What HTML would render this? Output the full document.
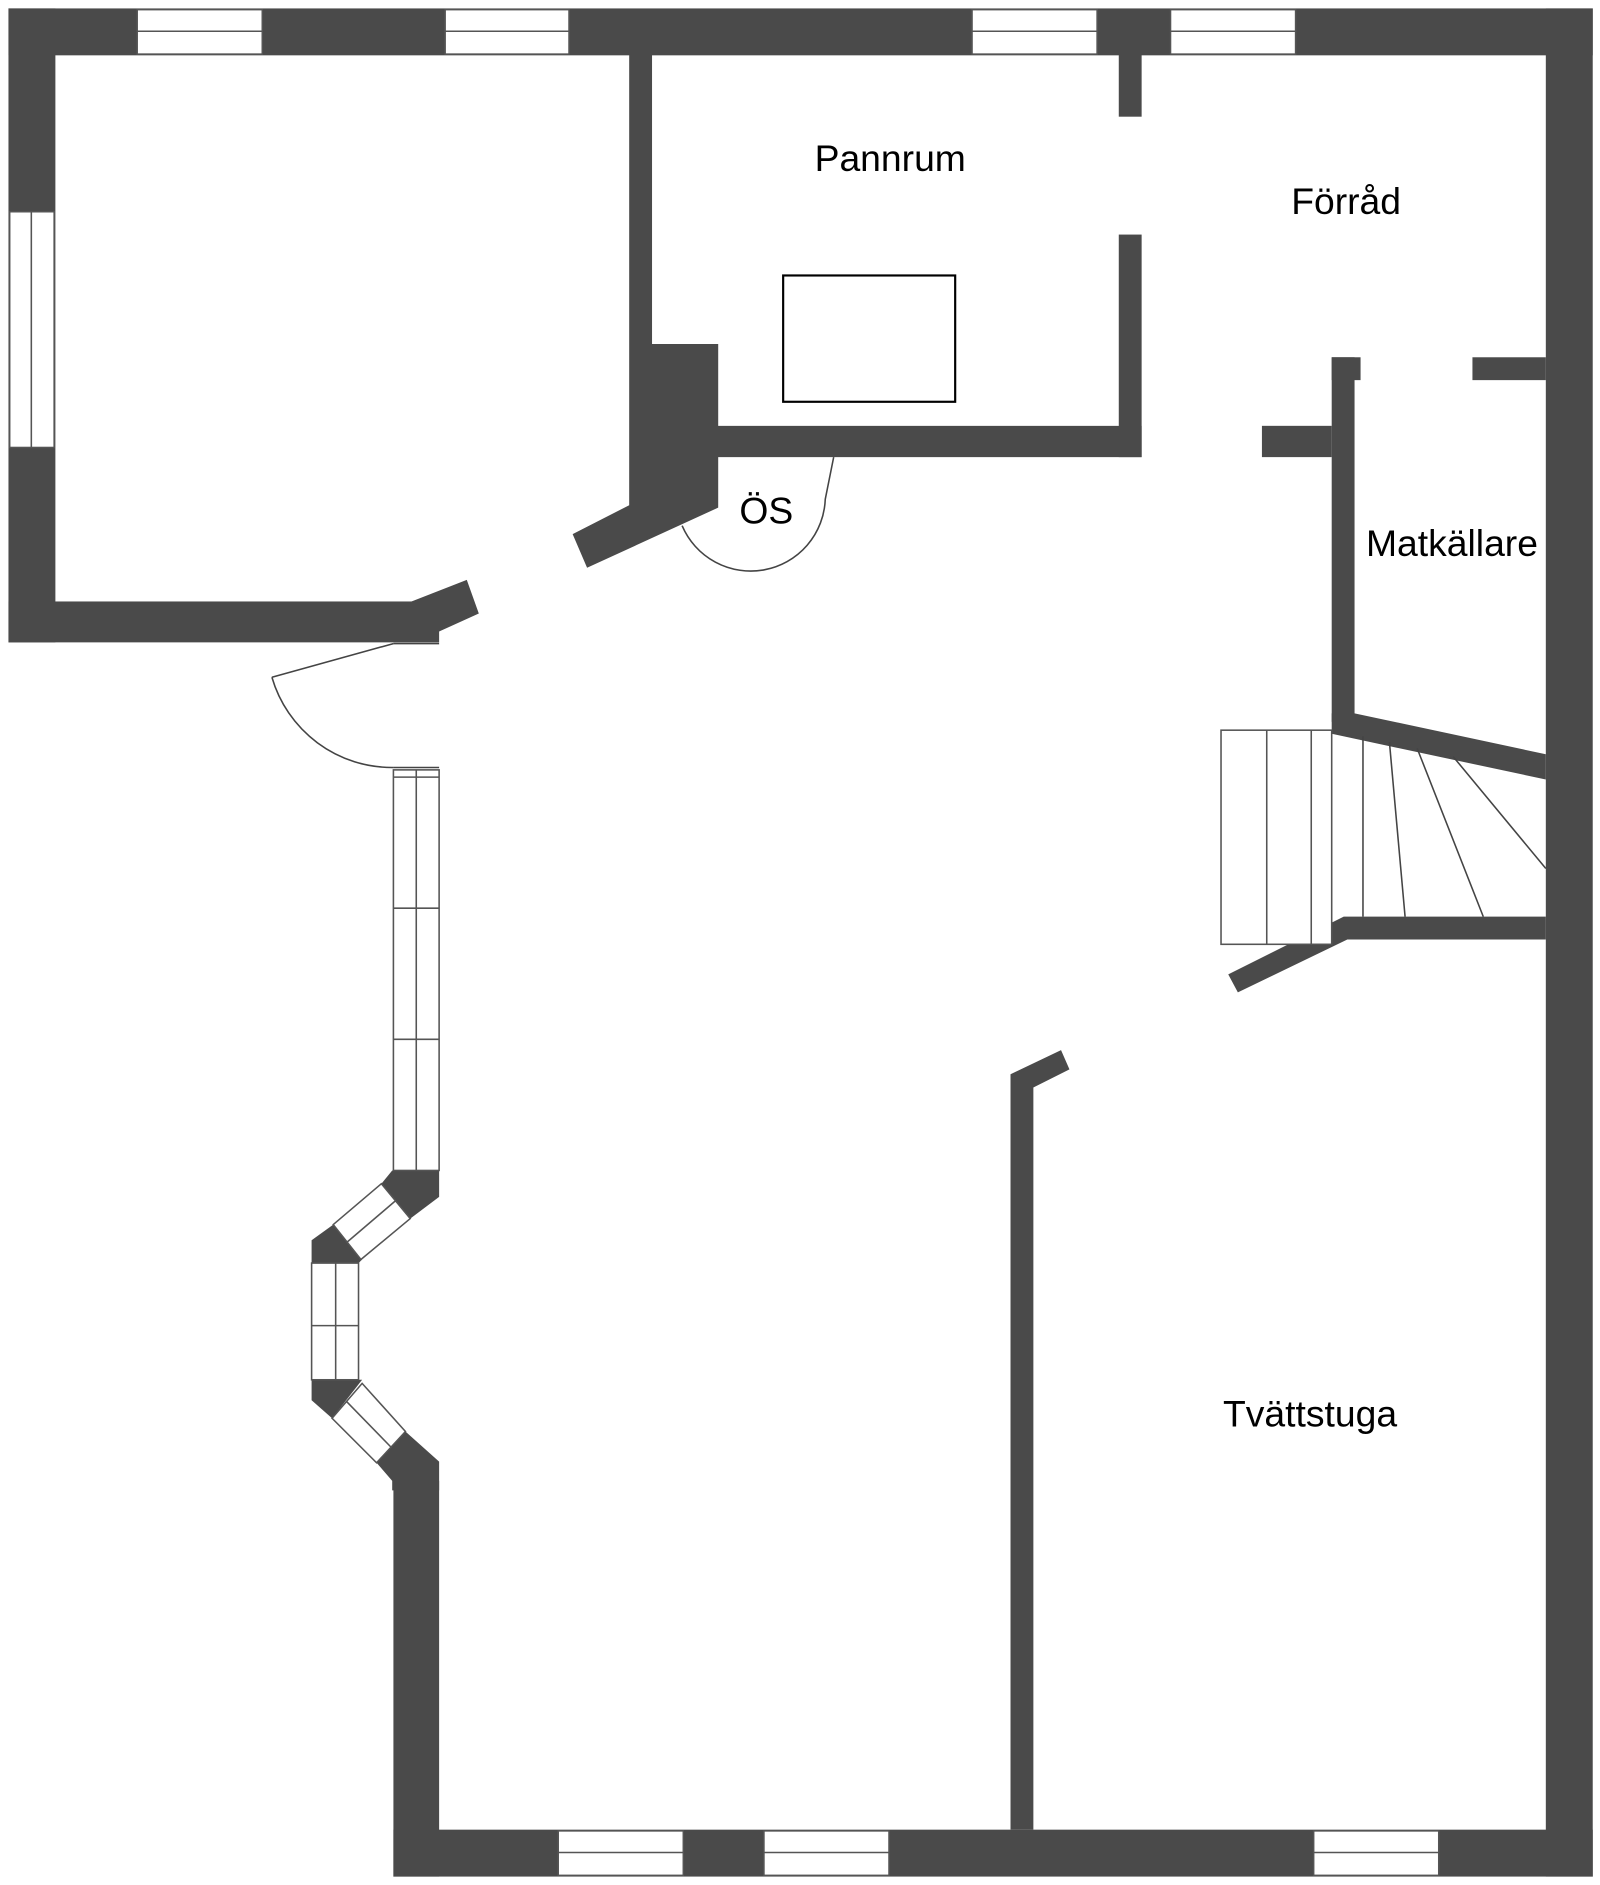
<!DOCTYPE html>
<html><head><meta charset="utf-8"><style>html,body{margin:0;padding:0;background:#fff}svg{display:block}</style></head>
<body>
<svg width="1600" height="1885" viewBox="0 0 1330 1567" xmlns="http://www.w3.org/2000/svg">
<g fill="#4a4a4a">
<rect x="7" y="7" width="1317" height="39"/>
<rect x="7" y="7" width="39" height="527"/>
<rect x="7" y="500" width="358" height="34"/>
<polygon points="342,500 388,482 398,510 365,525 342,525"/>
<rect x="1285" y="7" width="39" height="1553"/>
<rect x="327" y="1521" width="997" height="39"/>
<rect x="327" y="1231" width="38" height="329"/>
<polygon points="326,973 365,973 365,995 341,1013 317,984"/>
<polygon points="259,1031 277,1018 301,1047 298,1050 259,1050"/>
<polygon points="259,1147 301,1147 276,1179 259,1164"/>
<polygon points="337,1190 365,1215 365,1239 326,1239 326,1231 313,1216"/>
<polygon points="523,45 542,45 542,286 597,286 597,354 949,354 949,380 597,380 597,422 488,472 476,444 523,420"/>
<rect x="930" y="45" width="19" height="52"/>
<rect x="930" y="195" width="19" height="185"/>
<rect x="1107" y="297" width="19" height="303"/>
<rect x="1107" y="297" width="24" height="19"/>
<rect x="1224" y="297" width="61" height="19"/>
<rect x="1049" y="354" width="58" height="26"/>
<polygon points="1107,593 1126,593 1285,627 1285,648 1107,610"/>
<polygon points="1117,762 1285,762 1285,781 1120,781 1029,825 1021,810"/>
<polygon points="840,893 882,873 889,889 859,904 859,1521 840,1521"/>
</g>
<g fill="#fff" stroke="#555" stroke-width="1.3">
<rect x="114" y="8" width="104" height="37"/><line x1="114" y1="26" x2="218" y2="26"/>
<rect x="370" y="8" width="103" height="37"/><line x1="370" y1="26" x2="473" y2="26"/>
<rect x="808" y="8" width="104" height="37"/><line x1="808" y1="26" x2="912" y2="26"/>
<rect x="973" y="8" width="104" height="37"/><line x1="973" y1="26" x2="1077" y2="26"/>
<rect x="8" y="176" width="37" height="196"/><line x1="26" y1="176" x2="26" y2="372"/>
<rect x="464" y="1522" width="104" height="37"/><line x1="464" y1="1540" x2="568" y2="1540"/>
<rect x="635" y="1522" width="104" height="37"/><line x1="635" y1="1540" x2="739" y2="1540"/>
<rect x="1092" y="1522" width="104" height="37"/><line x1="1092" y1="1540" x2="1196" y2="1540"/>
<rect x="327" y="640" width="38" height="333"/>
<line x1="346" y1="640" x2="346" y2="973"/>
<line x1="327" y1="646" x2="365" y2="646"/>
<line x1="327" y1="755" x2="365" y2="755"/>
<line x1="327" y1="864" x2="365" y2="864"/>
<polygon points="317,984 341,1013 300,1047 277,1018"/>
<line x1="329" y1="998" x2="288" y2="1033"/>
<rect x="259" y="1050" width="39" height="97"/>
<line x1="279" y1="1050" x2="279" y2="1147"/>
<line x1="259" y1="1102" x2="298" y2="1102"/>
<polygon points="276,1179 301,1150 337,1190 313,1216"/>
<line x1="288" y1="1165" x2="325" y2="1203"/>
<rect x="1015" y="607" width="92" height="178"/>
<line x1="1053" y1="607" x2="1053" y2="785"/>
<line x1="1090" y1="607" x2="1090" y2="785"/>
</g>
<g fill="none" stroke="#444" stroke-width="1.3">
<line x1="1133" y1="612" x2="1133" y2="762"/>
<line x1="1155" y1="617" x2="1168" y2="762"/>
<line x1="1178" y1="622" x2="1233" y2="762"/>
<line x1="1208" y1="629" x2="1285" y2="722"/>
<line x1="327" y1="535" x2="365" y2="535"/>
<line x1="327" y1="535" x2="226" y2="563"/>
<path d="M226,563 A104,104 0 0 0 327,638"/>
<line x1="327" y1="638" x2="365" y2="638"/>
<path d="M693,380 L686,415 A62,62 0 0 1 567,437"/>
</g>
<rect x="651" y="229" width="143" height="105" fill="none" stroke="#000" stroke-width="1.8"/>
<g font-family="Liberation Sans, sans-serif" font-size="31" fill="#000" text-anchor="middle">
<text x="740" y="142">Pannrum</text>
<text x="1119" y="178">Förråd</text>
<text x="1207" y="462">Matkällare</text>
<text x="637" y="435">ÖS</text>
<text x="1089" y="1186">Tvättstuga</text>
</g>
</svg>
</body></html>
